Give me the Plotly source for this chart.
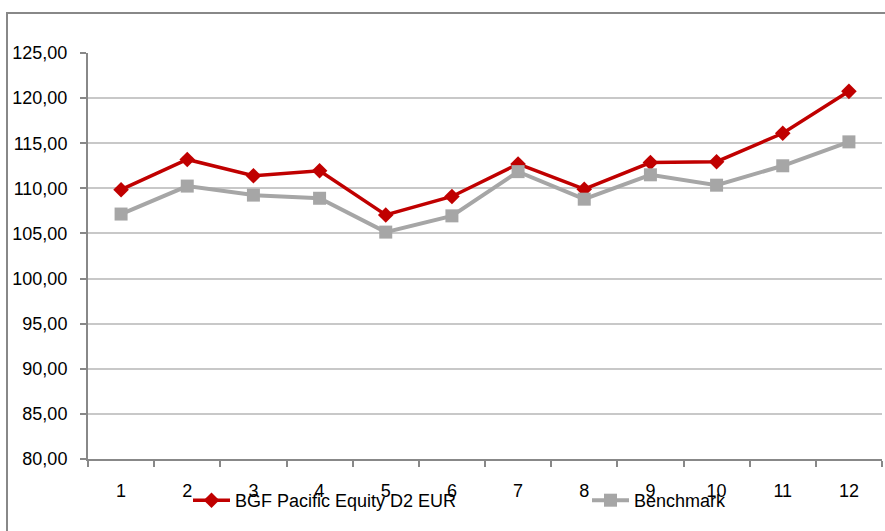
import plotly.graph_objects as go

periods = [str(i) for i in range(1, 13)]
fund_name = "BGF Pacific Equity D2 EUR"
fund_values = [109.85, 113.2, 111.4, 111.95, 107.05, 109.1, 112.7, 109.9, 112.85, 112.95, 116.1, 120.75]
bench_name = "Benchmark"
bench_values = [107.15, 110.25, 109.25, 108.9, 105.15, 106.95, 111.85, 108.8, 111.5, 110.35, 112.5, 115.15]
y_ticks = [80, 85, 90, 95, 100, 105, 110, 115, 120, 125]
y_tick_text = [f"{v:.2f}".replace(".", ",") for v in y_ticks]

W, H = 885, 531
L, R, T, B = 88, 3, 53, 72
pw, ph = W - L - R, H - T - B

def px_x(p):
    return (p - L) / pw

def px_y(p):
    return (H - B - p) / ph

fig = go.Figure()
fig.add_trace(go.Scatter(
    x=periods, y=fund_values, name=fund_name, mode="lines+markers",
    line=dict(color="#C00000", width=3.5),
    marker=dict(symbol="diamond", size=12, color="#C00000"),
    legend="legend",
))
fig.add_trace(go.Scatter(
    x=periods, y=bench_values, name=bench_name, mode="lines+markers",
    line=dict(color="#A6A6A6", width=4),
    marker=dict(symbol="square", size=13, color="#A6A6A6"),
    legend="legend2",
))

font = dict(family="Liberation Sans, Arial, sans-serif", size=18, color="#000000")

def legend_at(x_px):
    return dict(
        orientation="h", x=px_x(x_px), y=px_y(482), xanchor="left", yanchor="top",
        font=font, bgcolor="rgba(0,0,0,0)", itemwidth=37,
    )

fig.update_layout(
    width=W, height=H,
    margin=dict(l=L, r=R, t=T, b=B, pad=0, autoexpand=False),
    paper_bgcolor="white", plot_bgcolor="white",
    font=font,
    showlegend=True,
    legend=legend_at(188),
    legend2=legend_at(587),
    xaxis=dict(
        type="category", range=[-0.5, 11.5], automargin=False,
        showgrid=False, showline=True, linecolor="#888888", linewidth=2,
        ticks="outside", tickson="boundaries", ticklen=6, tickwidth=1.5, tickcolor="#888888",
        ticklabelstandoff=14, tickfont=font, zeroline=False,
    ),
    yaxis=dict(
        range=[80, 125], tickvals=y_ticks, ticktext=y_tick_text, automargin=False,
        showgrid=True, gridcolor="#C8C8C8", gridwidth=1.5,
        showline=True, linecolor="#888888", linewidth=2,
        ticks="outside", ticklen=6, tickwidth=1.5, tickcolor="#888888",
        ticklabelstandoff=9, tickfont=font, zeroline=False,
    ),
    shapes=[dict(
        type="rect", xref="paper", yref="paper",
        x0=px_x(7), x1=px_x(W + 5), y0=px_y(H + 5), y1=px_y(13),
        line=dict(color="#888888", width=2), fillcolor="rgba(0,0,0,0)", layer="below",
    )],
)

fig.write_html("out.html")
